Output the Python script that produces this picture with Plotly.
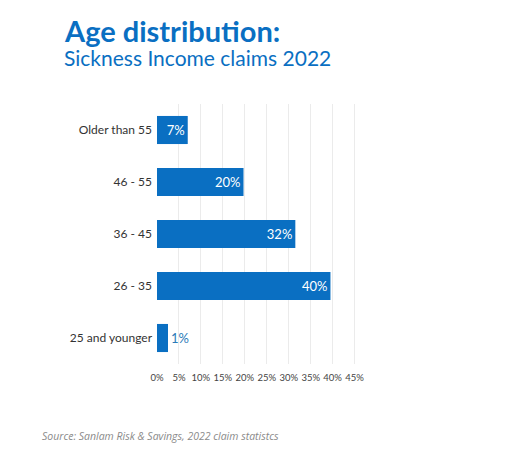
import plotly.graph_objects as go

# categories (bottom to top) and values
groupes = ["25 and younger", "26 - 35", "36 - 45", "46 - 55", "Older than 55"]
valeurs = [2.5, 39.5, 31.5, 19.7, 7.0]  # bar lengths as drawn
etiquettes = ["1%", "40%", "32%", "20%", "7%"]
positions = ["outside", "inside", "inside", "inside", "inside"]
couleurs_texte = ["#2a7ab8", "white", "white", "white", "white"]
graduations = [0, 5, 10, 15, 20, 25, 30, 35, 40, 45]
textes_grad = ["0%", "5%", "10%", "15%", "20%", "25%", "30%", "35%", "40%", "45%"]

bleu = "#0a6fc2"

fig = go.Figure()
fig.add_trace(go.Bar(
    x=valeurs,
    y=groupes,
    orientation="h",
    marker=dict(color=bleu, line=dict(width=0)),
    text=etiquettes,
    textposition=positions,
    insidetextanchor="end",
    textfont=dict(family="Lato", size=13, color=couleurs_texte),
    cliponaxis=False,
    hoverinfo="skip",
))

fig.update_layout(
    width=531, height=465,
    paper_bgcolor="white", plot_bgcolor="white",
    margin=dict(l=149, r=180, t=96, b=109),
    bargap=0.46,
    showlegend=False,
    font=dict(family="Lato", color="#333333"),
)

fig.update_xaxes(
    range=[0, 46],
    tickvals=graduations,
    ticktext=textes_grad,
    tickfont=dict(family="Lato", size=9.5, color="#444444"),
    showgrid=True, gridcolor="#ebebeb", gridwidth=1,
    zeroline=False, showline=False,
    ticks="", ticklabelstandoff=6, automargin=False,
)
fig.update_yaxes(
    tickfont=dict(family="Lato", size=12, color="#333333"),
    showgrid=False, zeroline=False, showline=False,
    ticks="", ticklabelstandoff=4, automargin=False,
)

# titres
fig.add_annotation(text="<b>Age distribution:</b>", xref="paper", yref="paper",
                   x=-0.47, y=1.0, xanchor="left", yanchor="bottom",
                   yshift=54, showarrow=False,
                   font=dict(family="Lato", size=29, color=bleu))
fig.add_annotation(text="Sickness Income claims 2022", xref="paper", yref="paper",
                   x=-0.47, y=1.0, xanchor="left", yanchor="bottom",
                   yshift=32, showarrow=False,
                   font=dict(family="Lato", size=21, color=bleu))
# source
fig.add_annotation(text="<i>Source: Sanlam Risk & Savings, 2022 claim statistcs</i>",
                   xref="paper", yref="paper", x=-0.58, y=0, xanchor="left",
                   yanchor="middle", yshift=-72, showarrow=False,
                   font=dict(family="Open Sans", size=10.5, color="#8a8a8a"))

fig.write_html("out.html")
